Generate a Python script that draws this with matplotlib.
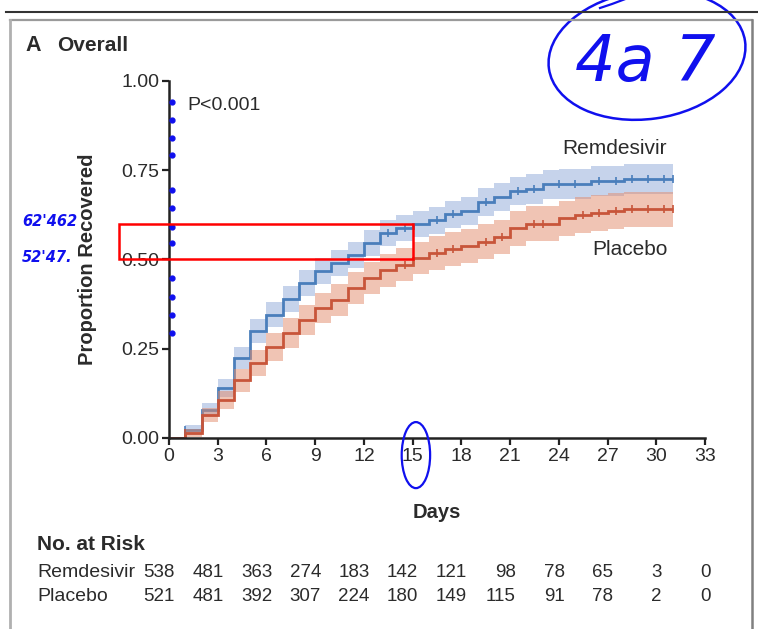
import matplotlib
matplotlib.use('Agg')
import matplotlib.pyplot as plt
import matplotlib.transforms as mtransforms
from matplotlib.patches import Ellipse, Rectangle
from matplotlib.lines import Line2D
import numpy as np

plt.rcParams['font.family'] = ['Liberation Sans Narrow', 'Liberation Sans', 'DejaVu Sans']

# step values, one per day (day 0 .. day 30), curve ends at day 31
days = np.arange(0, 32)
remdesivir = [0.0, 0.022, 0.078, 0.140, 0.224, 0.300, 0.345, 0.390, 0.434, 0.468,
              0.490, 0.513, 0.546, 0.574, 0.588, 0.600, 0.610, 0.627, 0.636, 0.660,
              0.675, 0.692, 0.697, 0.710, 0.710, 0.710, 0.720, 0.720, 0.725, 0.725, 0.725]
placebo = [0.0, 0.014, 0.065, 0.106, 0.162, 0.210, 0.255, 0.294, 0.330, 0.364,
           0.387, 0.420, 0.448, 0.470, 0.485, 0.504, 0.518, 0.529, 0.538, 0.550,
           0.563, 0.588, 0.600, 0.600, 0.615, 0.625, 0.630, 0.636, 0.640, 0.640, 0.640]
# half widths of the confidence bands
remdesivir_hw = [0.0, 0.014, 0.020, 0.025, 0.030, 0.033, 0.035, 0.036, 0.037, 0.037,
                 0.037, 0.037, 0.037, 0.037, 0.037, 0.037, 0.038, 0.038, 0.039, 0.039,
                 0.040, 0.040, 0.041, 0.041, 0.042, 0.042, 0.042, 0.043, 0.043, 0.043, 0.043]
placebo_hw = [0.0, 0.012, 0.020, 0.026, 0.032, 0.036, 0.039, 0.041, 0.042, 0.043,
              0.044, 0.045, 0.045, 0.046, 0.046, 0.046, 0.047, 0.047, 0.048, 0.048,
              0.048, 0.049, 0.049, 0.049, 0.050, 0.050, 0.050, 0.050, 0.050, 0.050, 0.050]
remdesivir_censor = [1.0, 13.5, 14.5, 16.5, 17.5, 19.5, 21.5, 22.5, 24.0, 25.0,
                     26.5, 27.5, 28.5, 29.5, 30.5, 31.0]
placebo_censor = [1.0, 14.5, 16.5, 17.5, 19.5, 20.5, 22.5, 23.0, 25.5, 26.5,
                  27.5, 28.5, 29.5, 30.5, 31.0]

x_ticks = [0, 3, 6, 9, 12, 15, 18, 21, 24, 27, 30, 33]
y_ticks = [0.0, 0.25, 0.50, 0.75, 1.00]
risk_remdesivir = [538, 481, 363, 274, 183, 142, 121, 98, 78, 65, 3, 0]
risk_placebo = [521, 481, 392, 307, 224, 180, 149, 115, 91, 78, 2, 0]

# hand drawn notes on the screenshot
note_dots = [0.941, 0.891, 0.840, 0.793, 0.695, 0.644, 0.591, 0.546,
             0.448, 0.395, 0.345, 0.294]
note_box = (-3.1, 0.50, 15.0, 0.60)

blue = '#4a7ebb'
blue_band = '#8fa9d9'
red = '#c8553a'
red_band = '#e38a6a'
ink = '#2b2b2b'
pen = '#1010ee'

fig = plt.figure(figsize=(7.58, 6.29), dpi=100)
ax = fig.add_axes([0.2230, 0.3037, 0.7071, 0.5676])

for vals, hw, lc, bc, cens in [(remdesivir, remdesivir_hw, blue, blue_band, remdesivir_censor),
                               (placebo, placebo_hw, red, red_band, placebo_censor)]:
    v = np.array(vals)
    h = np.array(hw)
    ax.stairs(v + h, days, baseline=v - h, fill=True, color=bc, alpha=0.5, lw=0)
    ax.stairs(v, days, color=lc, lw=2.0, baseline=None)
    cy = [v[min(int(t), len(v) - 1)] for t in cens]
    ax.plot(cens, cy, ls='none', marker='|', ms=6, mew=1.2, color=lc)

ax.set_xlim(0, 33)
ax.set_ylim(0, 1.0)
ax.set_xticks(x_ticks)
ax.set_yticks(y_ticks)
ax.set_yticklabels([f'{t:.2f}' for t in y_ticks])
for s in ['top', 'right']:
    ax.spines[s].set_visible(False)
for s in ['left', 'bottom']:
    ax.spines[s].set_linewidth(1.8)
    ax.spines[s].set_color('#222222')
ax.tick_params(direction='out', length=5, width=1.6, color='#222222',
               labelsize=14, labelcolor=ink, pad=2)

ax.set_xlabel('Days', fontsize=14.5, fontweight='bold', color=ink)
ax.xaxis.set_label_coords(0.5, -0.182)
ax.set_ylabel('Proportion Recovered', fontsize=14.5, fontweight='bold', color=ink)
ax.yaxis.set_label_coords(-0.134, 0.5)

ax.text(1.1, 0.93, 'P<0.001', fontsize=14, color=ink, va='center', ha='left')
ax.text(27.4, 0.81, 'Remdesivir', fontsize=15, color=ink, va='center', ha='center')
ax.text(28.4, 0.527, 'Placebo', fontsize=15, color=ink, va='center', ha='center')

fig.text(0.034, 0.927, 'A', fontsize=15.5, fontweight='bold', color=ink, va='center')
fig.text(0.076, 0.927, 'Overall', fontsize=15, fontweight='bold', color=ink, va='center')

# number at risk table
fig.text(0.049, 0.134, 'No. at Risk', fontsize=15, fontweight='bold', color=ink, va='center')
fig.text(0.049, 0.090, 'Remdesivir', fontsize=14, color=ink, va='center')
fig.text(0.049, 0.051, 'Placebo', fontsize=14, color=ink, va='center')
trans = mtransforms.blended_transform_factory(ax.transData, fig.transFigure)
for t, a, b in zip(x_ticks, risk_remdesivir, risk_placebo):
    ax.text(t + 0.35, 0.090, str(a), transform=trans, fontsize=13.5, color=ink,
            ha='right', va='center', clip_on=False)
    ax.text(t + 0.35, 0.051, str(b), transform=trans, fontsize=13.5, color=ink,
            ha='right', va='center', clip_on=False)

# pen marks in data space
ax.plot([0.2] * len(note_dots), note_dots, ls='none', marker='o', ms=3.5,
        color=pen, clip_on=False, zorder=6)
x0, y0, x1, y1 = note_box
ax.add_patch(Rectangle((x0, y0), x1 - x0, y1 - y0, fill=False, ec='#ff0000',
                       lw=1.8, clip_on=False, zorder=7))
ax.add_patch(Ellipse((15.2, -0.048), 1.75, 0.185, fill=False, ec=pen, lw=1.6,
                     clip_on=False, zorder=7))

# overlay in pixel space for the page frame and handwriting
over = fig.add_axes([0, 0, 1, 1])
over.set_xlim(0, 758)
over.set_ylim(629, 0)
over.axis('off')
over.add_line(Line2D([6, 758], [12, 12], color='#333333', lw=1.5))
over.add_line(Line2D([10, 752], [20, 20], color='#9a9a9a', lw=1.6))
over.add_line(Line2D([10, 10], [20, 629], color='#b0b0b0', lw=2.0))
over.add_line(Line2D([752, 752], [20, 629], color='#808080', lw=1.8))
over.add_patch(Ellipse((647, 55), 198, 128, angle=-8, fill=False, ec=pen, lw=1.8))
over.add_line(Line2D([600, 612, 628], [8, 4, -2], color=pen, lw=1.6))
over.text(645, 63, '4a 7', fontsize=46, color=pen, ha='center', va='center',
          family='DejaVu Sans', fontweight='light', style='italic')
over.text(22, 221, "62'462", fontsize=10.5, color=pen, ha='left', va='center',
          family='DejaVu Sans', style='italic', fontweight='bold')
over.text(22, 258, "52'47.", fontsize=10.5, color=pen, ha='left', va='center',
          family='DejaVu Sans', style='italic', fontweight='bold')

fig.savefig('out.png', dpi=100)
